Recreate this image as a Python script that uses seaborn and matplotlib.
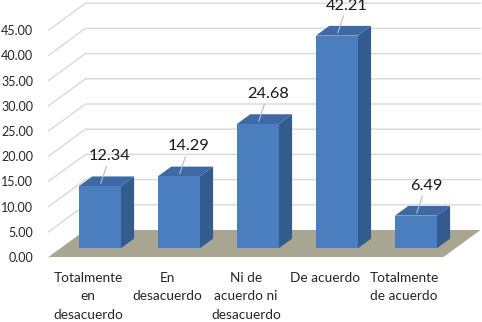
import numpy as np
import pandas as pd
import matplotlib
matplotlib.use("Agg")
import matplotlib.pyplot as plt
from matplotlib.patches import Polygon
import seaborn as sns

categories = ["Totalmente\nen\ndesacuerdo", "En\ndesacuerdo", "Ni de\nacuerdo ni\ndesacuerdo",
              "De acuerdo", "Totalmente\nde acuerdo"]
values = [12.34, 14.29, 24.68, 42.21, 6.49]
yticks = [0, 5, 10, 15, 20, 25, 30, 35, 40, 45]

sns.set_theme(style="white")
plt.rcParams['font.family'] = ['Lato', 'DejaVu Sans']

W, H = 482, 322
fig = plt.figure(figsize=(W / 100, H / 100), dpi=100)
ax_l, ax_r, ax_b, ax_t = 48.5, 443.5, 65, 257 - 45 * 5.04
ax = fig.add_axes([ax_l / W, ax_b / H, (ax_r - ax_l) / W, (322 - ax_b - ax_t) / H])

df = pd.DataFrame({"cat": categories, "val": values})

ax.set_xlim(-0.5, 4.5)
ax.set_ylim(0, 45)

# depth geometry (data units)
px_x = (ax_r - ax_l) / 5.0
px_y = 5.04
DX = 37 / px_x
DY = 27 / px_y
f0, f1 = 0.32, 0.68

grid_c = "#d9d9d9"
# floor
floor = Polygon([(-0.5, 0), (4.5, 0), (4.5 + DX, DY), (-0.5 + DX, DY)], closed=True,
                facecolor="#a8a593", edgecolor="none", clip_on=False, zorder=1)
ax.add_patch(floor)
# gridlines (diagonal on side wall, horizontal on back wall)
for v in yticks[1:]:
    ax.plot([-0.5, -0.5 + DX, 4.5 + DX], [v, v + DY, v + DY], color=grid_c, lw=1.0,
            clip_on=False, zorder=0.5)

sns.barplot(data=df, x="cat", y="val", color="#4a7ebe", width=0.53, saturation=1,
            ax=ax, zorder=3, edgecolor="none")

bars = [p for p in ax.patches if p is not floor]
for p, v in zip(bars, values):
    p.set_x(p.get_x() + f0 * DX)
    p.set_y(f0 * DY)
    x0 = p.get_x()
    x1 = x0 + p.get_width()
    y0 = p.get_y()
    y1 = y0 + p.get_height()
    ddx = (f1 - f0) * DX
    ddy = (f1 - f0) * DY
    side = Polygon([(x1, y0), (x1 + ddx, y0 + ddy), (x1 + ddx, y1 + ddy), (x1, y1)],
                   closed=True, facecolor="#335b8e", edgecolor="none", zorder=2.9, clip_on=False)
    top = Polygon([(x0, y1), (x1, y1), (x1 + ddx, y1 + ddy), (x0 + ddx, y1 + ddy)],
                  closed=True, facecolor="#3e69a5", edgecolor="none", zorder=2.9, clip_on=False)
    ax.add_patch(side)
    ax.add_patch(top)
    p.set_clip_on(False)
    cx = x0 + p.get_width() / 2
    ax.annotate(f"{v:.2f}", xy=(cx, y1), xytext=(10, 30), textcoords="offset pixels",
                ha="center", va="center", fontsize=11.8, color="#1a1a1a",
                arrowprops=dict(arrowstyle="-", color="#aabfd9", lw=0.8, shrinkA=0, shrinkB=2),
                annotation_clip=False, zorder=5)

ax.set_yticks(yticks)
ax.set_yticklabels([f"{t:.2f}" for t in yticks])
ax.set_xlabel("")
ax.set_ylabel("")
ax.tick_params(axis="y", length=0, pad=11, labelsize=9, labelcolor="#262626")
ax.tick_params(axis="x", length=0, pad=11, labelsize=9.8, labelcolor="#262626")
for lbl in ax.get_xticklabels():
    lbl.set_linespacing(1.62)
    lbl.set_multialignment("center")
for s in ax.spines.values():
    s.set_visible(False)
ax.grid(False)
ax.patch.set_alpha(0)

fig.savefig("out.png", dpi=100, facecolor="white")
